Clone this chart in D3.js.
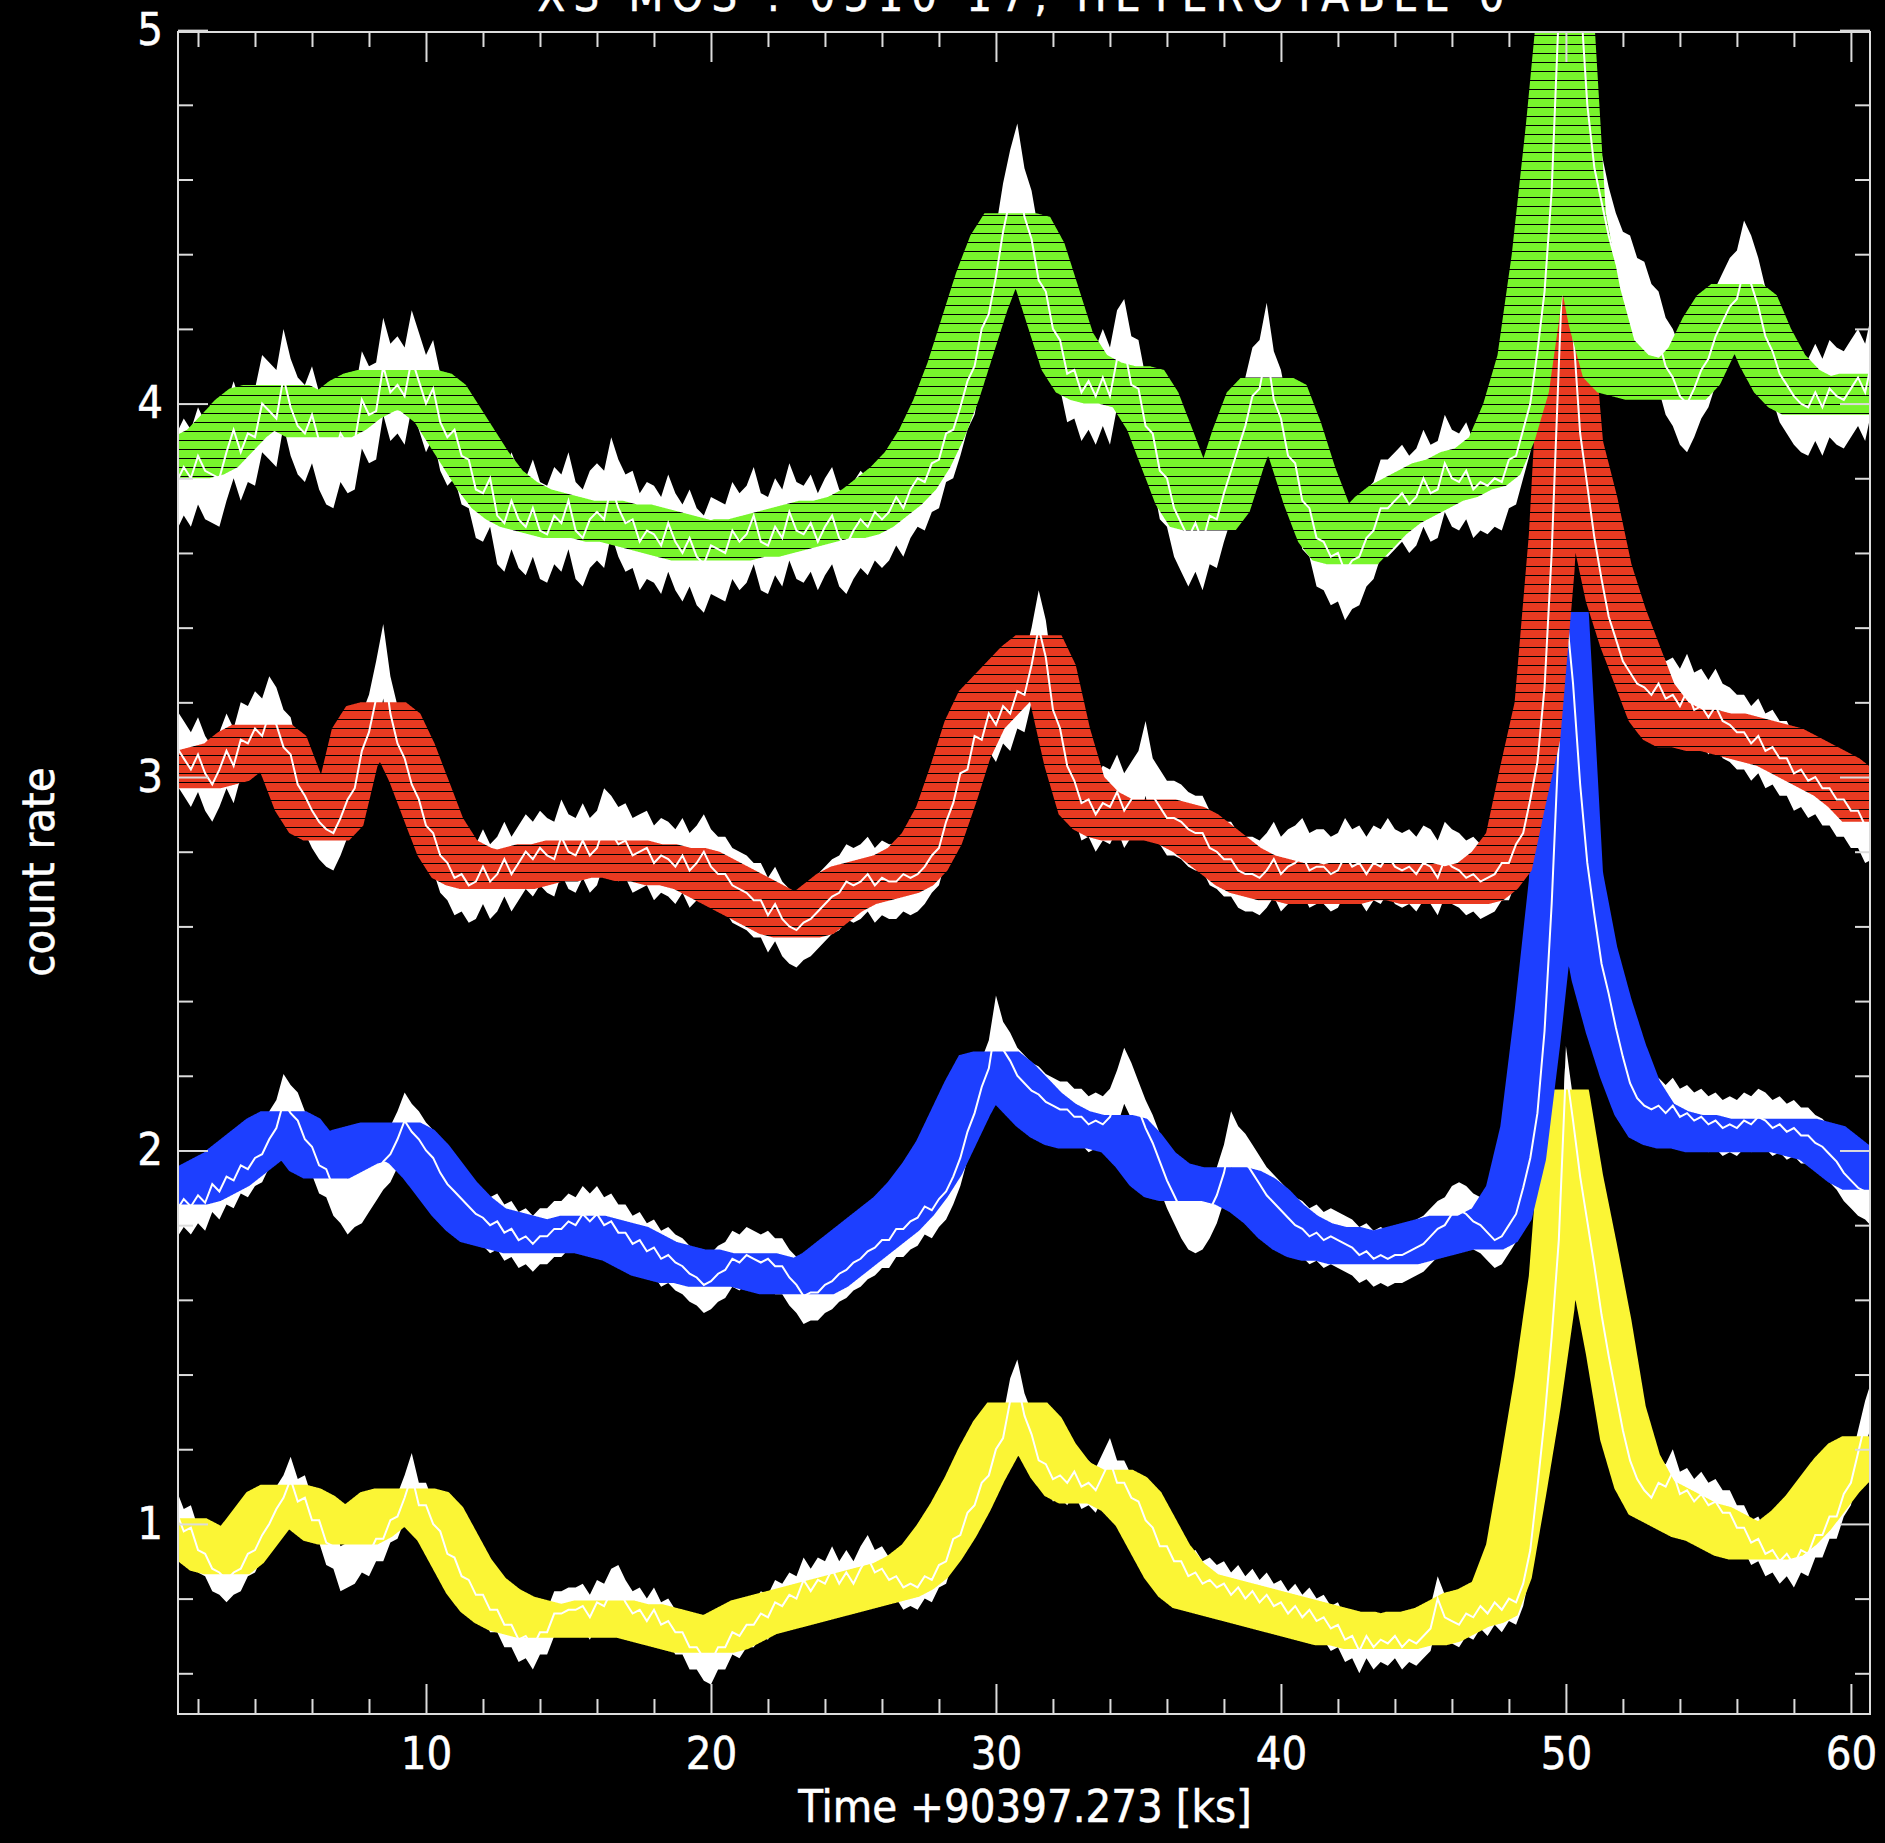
<!DOCTYPE html>
<html>
<head>
<meta charset="utf-8">
<script src="https://cdn.jsdelivr.net/npm/d3@7"></script>
<style>
  html, body { margin: 0; padding: 0; background: #000; }
  svg { display: block; }
  text {
    font-family: "DejaVu Sans Condensed", "DejaVu Sans", sans-serif;
    font-stretch: condensed;
    font-weight: 200;
    font-size: 45px;
    fill: #fff;
    stroke: #fff;
    stroke-width: 0.5px;
  }
</style>
</head>
<body>
<div id="chart"></div>
<script>
// time grids (ks)
const fineStart = 1.25, fineStep = 0.25;   // white light curves
const binStart = 1.5, binStep = 0.5;       // coloured binned curves

const xTicks = [10, 20, 30, 40, 50, 60];
const yTicks = [1, 2, 3, 4, 5];

// white curves, one value every 0.25 ks from 1.25 ks
const yellowFine = [
  1.03, 0.98, 0.99, 0.93, 0.92, 0.88, 0.87, 0.85, 0.87, 0.88,
  0.92, 0.93, 0.97, 1.00, 1.04, 1.07, 1.12, 1.06, 1.07, 1.01,
  1.01, 0.95, 0.94, 0.88, 0.89, 0.90, 0.93, 0.92, 0.96, 0.96,
  1.01, 1.02, 1.07, 1.13, 1.05, 1.05, 1.00, 0.98, 0.92, 0.91,
  0.86, 0.85, 0.81, 0.81, 0.77, 0.77, 0.73, 0.73, 0.69, 0.70,
  0.67, 0.71, 0.71, 0.76, 0.76, 0.77, 0.77, 0.78, 0.75, 0.79,
  0.78, 0.82, 0.83, 0.79, 0.76, 0.77, 0.74, 0.77, 0.73, 0.74,
  0.71, 0.71, 0.67, 0.67, 0.64, 0.63, 0.67, 0.67, 0.71, 0.70,
  0.73, 0.73, 0.76, 0.75, 0.79, 0.78, 0.81, 0.80, 0.85, 0.82,
  0.85, 0.84, 0.88, 0.84, 0.87, 0.84, 0.88, 0.91, 0.87, 0.88,
  0.85, 0.86, 0.83, 0.84, 0.83, 0.86, 0.85, 0.89, 0.90, 0.96,
  0.97, 1.03, 1.05, 1.11, 1.13, 1.20, 1.23, 1.33, 1.38, 1.29,
  1.24, 1.17, 1.16, 1.12, 1.13, 1.11, 1.14, 1.10, 1.11, 1.09,
  1.13, 1.17, 1.11, 1.11, 1.07, 1.06, 1.01, 0.99, 0.94, 0.94,
  0.90, 0.90, 0.86, 0.87, 0.84, 0.85, 0.83, 0.84, 0.81, 0.83,
  0.80, 0.82, 0.79, 0.81, 0.78, 0.79, 0.76, 0.78, 0.75, 0.77,
  0.74, 0.75, 0.72, 0.73, 0.69, 0.70, 0.66, 0.70, 0.67, 0.69,
  0.68, 0.70, 0.67, 0.69, 0.68, 0.70, 0.72, 0.80, 0.75, 0.74,
  0.73, 0.76, 0.75, 0.78, 0.76, 0.79, 0.77, 0.80, 0.79, 0.84,
  0.93, 1.10, 1.28, 1.50, 1.76, 2.22, 2.08, 1.93, 1.81, 1.69,
  1.56, 1.45, 1.35, 1.25, 1.17, 1.12, 1.09, 1.07, 1.11, 1.10,
  1.14, 1.08, 1.09, 1.06, 1.08, 1.05, 1.06, 1.03, 1.03, 0.99,
  0.99, 0.95, 0.96, 0.92, 0.93, 0.90, 0.92, 0.89, 0.93, 0.92,
  0.97, 0.97, 1.02, 1.02, 1.08, 1.11, 1.19, 1.27, 1.33
];
const blueFine = [
  1.84, 1.87, 1.85, 1.88, 1.86, 1.91, 1.89, 1.93, 1.92, 1.96,
  1.95, 1.98, 1.99, 2.03, 2.06, 2.13, 2.10, 2.08, 2.03, 2.01,
  1.96, 1.95, 1.90, 1.88, 1.85, 1.87, 1.88, 1.91, 1.94, 1.97,
  1.99, 2.03, 2.08, 2.05, 2.03, 2.00, 1.98, 1.94, 1.91, 1.89,
  1.87, 1.85, 1.83, 1.82, 1.80, 1.81, 1.78, 1.79, 1.76, 1.77,
  1.75, 1.77, 1.77, 1.79, 1.79, 1.81, 1.80, 1.83, 1.81, 1.83,
  1.80, 1.81, 1.78, 1.78, 1.75, 1.76, 1.73, 1.74, 1.71, 1.72,
  1.70, 1.69, 1.67, 1.66, 1.64, 1.65, 1.67, 1.68, 1.71, 1.70,
  1.72, 1.71, 1.70, 1.71, 1.69, 1.69, 1.66, 1.64, 1.61, 1.62,
  1.62, 1.64, 1.65, 1.67, 1.68, 1.70, 1.71, 1.73, 1.74, 1.76,
  1.76, 1.79, 1.79, 1.81, 1.82, 1.85, 1.84, 1.87, 1.89, 1.93,
  1.98, 2.05, 2.10, 2.17, 2.22, 2.34, 2.27, 2.24, 2.20, 2.18,
  2.16, 2.15, 2.13, 2.12, 2.11, 2.11, 2.09, 2.09, 2.07, 2.08,
  2.07, 2.09, 2.14, 2.20, 2.16, 2.11, 2.06, 2.02, 1.97, 1.92,
  1.88, 1.84, 1.81, 1.80, 1.81, 1.84, 1.88, 1.94, 2.03, 1.99,
  1.97, 1.94, 1.91, 1.88, 1.86, 1.84, 1.82, 1.80, 1.79, 1.77,
  1.78, 1.76, 1.77, 1.76, 1.75, 1.74, 1.72, 1.73, 1.71, 1.72,
  1.71, 1.72, 1.72, 1.73, 1.74, 1.75, 1.77, 1.79, 1.80, 1.83,
  1.84, 1.83, 1.81, 1.80, 1.78, 1.76, 1.77, 1.80, 1.83, 1.90,
  1.98, 2.10, 2.32, 2.66, 3.10, 3.45, 3.25, 2.98, 2.77, 2.63,
  2.50, 2.42, 2.33, 2.25, 2.18, 2.14, 2.12, 2.11, 2.12, 2.10,
  2.12, 2.09, 2.10, 2.08, 2.09, 2.07, 2.08, 2.06, 2.07, 2.06,
  2.08, 2.07, 2.09, 2.08, 2.06, 2.07, 2.05, 2.06, 2.04, 2.04,
  2.02, 2.01, 1.99, 1.97, 1.94, 1.92, 1.90, 1.89, 1.87
];
const redFine = [
  3.08, 3.05, 3.02, 3.06, 3.01, 2.98, 3.02, 3.07, 3.03, 3.10,
  3.09, 3.13, 3.11, 3.17, 3.14, 3.08, 3.06, 2.98, 2.95, 2.91,
  2.88, 2.86, 2.85, 2.89, 2.94, 2.97, 3.07, 3.12, 3.21, 3.31,
  3.17, 3.09, 3.05, 2.98, 2.94, 2.87, 2.85, 2.79, 2.77, 2.73,
  2.74, 2.71, 2.72, 2.76, 2.72, 2.74, 2.78, 2.74, 2.77, 2.80,
  2.78, 2.81, 2.79, 2.78, 2.84, 2.80, 2.79, 2.83, 2.79, 2.81,
  2.87, 2.85, 2.82, 2.83, 2.79, 2.80, 2.81, 2.77, 2.79, 2.78,
  2.76, 2.79, 2.75, 2.77, 2.80, 2.76, 2.74, 2.74, 2.71, 2.70,
  2.69, 2.67, 2.67, 2.63, 2.66, 2.62, 2.60, 2.59, 2.61, 2.62,
  2.64, 2.66, 2.68, 2.69, 2.72, 2.71, 2.72, 2.74, 2.71, 2.73,
  2.72, 2.72, 2.74, 2.73, 2.74, 2.76, 2.79, 2.81, 2.88, 2.93,
  3.01, 3.02, 3.11, 3.10, 3.17, 3.14, 3.19, 3.17, 3.23, 3.22,
  3.30, 3.40, 3.32, 3.18, 3.13, 3.03, 2.99, 2.93, 2.94, 2.90,
  2.93, 2.92, 2.96, 2.91, 2.94, 2.97, 3.05, 2.95, 2.92, 2.89,
  2.89, 2.88, 2.86, 2.85, 2.85, 2.81, 2.80, 2.78, 2.78, 2.75,
  2.74, 2.74, 2.73, 2.75, 2.78, 2.74, 2.76, 2.77, 2.79, 2.75,
  2.76, 2.76, 2.74, 2.75, 2.79, 2.76, 2.77, 2.74, 2.77, 2.76,
  2.79, 2.76, 2.75, 2.76, 2.74, 2.77, 2.76, 2.73, 2.78, 2.76,
  2.75, 2.73, 2.74, 2.72, 2.73, 2.74, 2.77, 2.77, 2.82, 2.85,
  2.94, 3.04, 3.24, 3.60, 4.10, 4.58, 4.20, 3.92, 3.78, 3.64,
  3.53, 3.43, 3.37, 3.31, 3.28, 3.25, 3.24, 3.22, 3.25, 3.21,
  3.22, 3.19, 3.23, 3.18, 3.19, 3.16, 3.19, 3.15, 3.14, 3.12,
  3.12, 3.09, 3.11, 3.07, 3.08, 3.05, 3.05, 3.01, 3.02, 2.99,
  3.00, 2.97, 2.97, 2.94, 2.94, 2.91, 2.91, 2.87, 2.88
];
const greenFine = [
  3.79, 3.83, 3.80, 3.86, 3.82, 3.81, 3.80, 3.87, 3.93, 3.87,
  3.92, 3.91, 4.00, 3.98, 3.96, 4.07, 3.99, 3.94, 3.92, 3.97,
  3.90, 3.86, 3.85, 3.92, 3.89, 3.90, 4.01, 3.97, 3.98, 4.10,
  4.03, 4.05, 4.02, 4.12, 4.06, 4.00, 4.04, 3.95, 3.91, 3.93,
  3.86, 3.85, 3.77, 3.76, 3.80, 3.70, 3.68, 3.74, 3.69, 3.67,
  3.72, 3.66, 3.65, 3.70, 3.68, 3.74, 3.66, 3.64, 3.69, 3.71,
  3.69, 3.78, 3.72, 3.68, 3.69, 3.63, 3.66, 3.65, 3.62, 3.68,
  3.63, 3.60, 3.64, 3.59, 3.57, 3.62, 3.61, 3.60, 3.66, 3.63,
  3.65, 3.70, 3.63, 3.62, 3.67, 3.64, 3.71, 3.66, 3.65, 3.68,
  3.63, 3.67, 3.70, 3.64, 3.62, 3.66, 3.69, 3.67, 3.71, 3.69,
  3.71, 3.75, 3.72, 3.77, 3.80, 3.79, 3.84, 3.85, 3.92, 3.93,
  3.99, 4.06, 4.10, 4.20, 4.24, 4.34, 4.46, 4.55, 4.62, 4.50,
  4.44, 4.33, 4.30, 4.20, 4.17, 4.08, 4.09, 4.03, 4.06, 4.02,
  4.07, 4.02, 4.12, 4.15, 4.05, 4.04, 3.94, 3.92, 3.82, 3.80,
  3.72, 3.68, 3.64, 3.68, 3.63, 3.70, 3.69, 3.76, 3.82, 3.88,
  3.94, 4.02, 4.04, 4.14, 4.01, 3.96, 3.86, 3.84, 3.74, 3.72,
  3.64, 3.63, 3.59, 3.60, 3.55, 3.58, 3.59, 3.64, 3.66, 3.72,
  3.72, 3.74, 3.76, 3.73, 3.75, 3.80, 3.76, 3.77, 3.84, 3.80,
  3.79, 3.82, 3.77, 3.79, 3.78, 3.80, 3.79, 3.85, 3.86, 3.93,
  4.00, 4.14, 4.30, 4.57, 5.05, 5.40, 5.30, 5.10, 4.80, 4.63,
  4.54, 4.45, 4.38, 4.33, 4.32, 4.26, 4.25, 4.19, 4.17, 4.10,
  4.07, 4.02, 4.00, 4.04, 4.09, 4.12, 4.18, 4.22, 4.26, 4.28,
  4.36, 4.32, 4.26, 4.18, 4.14, 4.08, 4.05, 4.02, 4.00, 3.99,
  4.03, 3.99, 4.04, 4.02, 4.01, 4.04, 4.07, 4.03, 4.12
];

// coloured binned curves, one value every 0.5 ks from 1.5 ks
const yellowBins = [
  0.97, 0.95, 0.92, 0.91, 0.94, 0.99, 1.04, 1.06, 1.05, 1.03,
  1.00, 0.99, 0.99, 1.01, 1.04, 1.05, 1.05, 1.04, 1.00, 0.93,
  0.86, 0.81, 0.78, 0.76, 0.75, 0.74, 0.74, 0.74, 0.74, 0.75,
  0.75, 0.74, 0.74, 0.73, 0.72, 0.71, 0.70, 0.70, 0.71, 0.73,
  0.75, 0.76, 0.77, 0.78, 0.79, 0.80, 0.81, 0.82, 0.83, 0.84,
  0.85, 0.87, 0.90, 0.95, 1.01, 1.08, 1.16, 1.23, 1.28, 1.28,
  1.24, 1.17, 1.12, 1.10, 1.10, 1.10, 1.08, 1.04, 0.97, 0.90,
  0.85, 0.82, 0.81, 0.80, 0.79, 0.78, 0.77, 0.76, 0.75, 0.74,
  0.73, 0.72, 0.72, 0.71, 0.71, 0.71, 0.72, 0.72, 0.73, 0.75,
  0.77, 0.78, 0.80, 0.90, 1.12, 1.35, 1.62, 2.12, 1.89, 1.70,
  1.50, 1.27, 1.14, 1.07, 1.05, 1.03, 1.01, 1.00, 0.98, 0.96,
  0.95, 0.95, 0.96, 0.99, 1.03, 1.08, 1.13, 1.17, 1.19
];
const blueBins = [
  1.90, 1.91, 1.93, 1.95, 1.98, 2.01, 2.04, 2.06, 2.04, 1.99,
  1.97, 1.99, 2.01, 2.02, 2.03, 2.03, 2.01, 1.97, 1.92, 1.87,
  1.83, 1.80, 1.79, 1.78, 1.77, 1.77, 1.77, 1.77, 1.78, 1.77,
  1.76, 1.75, 1.73, 1.71, 1.70, 1.69, 1.69, 1.68, 1.68, 1.68,
  1.68, 1.67, 1.66, 1.66, 1.66, 1.68, 1.71, 1.74, 1.77, 1.80,
  1.83, 1.87, 1.92, 1.98, 2.06, 2.14, 2.21, 2.22, 2.19, 2.15,
  2.11, 2.08, 2.06, 2.05, 2.05, 2.05, 2.04, 2.00, 1.95, 1.92,
  1.91, 1.91, 1.91, 1.91, 1.90, 1.88, 1.85, 1.81, 1.78, 1.76,
  1.75, 1.75, 1.74, 1.74, 1.74, 1.74, 1.75, 1.76, 1.77, 1.78,
  1.78, 1.78, 1.80, 1.86, 2.02, 2.33, 2.68, 3.40, 2.70, 2.50,
  2.36, 2.24, 2.14, 2.08, 2.06, 2.05, 2.05, 2.04, 2.04, 2.04,
  2.04, 2.04, 2.04, 2.04, 2.03, 2.02, 1.99, 1.96, 1.94
];
const redBins = [
  3.02, 3.02, 3.03, 3.04, 3.07, 3.09, 3.09, 3.06, 2.96, 2.90,
  2.88, 2.92, 3.08, 3.14, 3.15, 3.12, 3.04, 2.94, 2.84, 2.78,
  2.76, 2.75, 2.75, 2.75, 2.76, 2.77, 2.77, 2.78, 2.78, 2.78,
  2.78, 2.78, 2.77, 2.77, 2.76, 2.76, 2.75, 2.73, 2.71, 2.69,
  2.67, 2.65, 2.63, 2.62, 2.63, 2.66, 2.69, 2.71, 2.72, 2.73,
  2.74, 2.76, 2.80, 2.87, 2.98, 3.10, 3.18, 3.22, 3.26, 3.30,
  3.33, 3.25, 3.08, 2.95, 2.91, 2.89, 2.88, 2.89, 2.89, 2.88,
  2.87, 2.85, 2.82, 2.79, 2.76, 2.74, 2.73, 2.72, 2.72, 2.71,
  2.71, 2.71, 2.72, 2.72, 2.72, 2.72, 2.72, 2.71, 2.71, 2.71,
  2.71, 2.72, 2.75, 2.80, 2.98, 3.15, 3.60, 4.30, 3.85, 3.70,
  3.52, 3.40, 3.30, 3.20, 3.15, 3.13, 3.13, 3.12, 3.12, 3.11,
  3.10, 3.09, 3.08, 3.06, 3.04, 3.02, 3.00, 2.97, 2.93
];
const greenBins = [
  3.85, 3.86, 3.88, 3.92, 3.96, 3.99, 4.00, 4.00, 3.98, 3.96,
  3.96, 3.98, 4.01, 4.03, 4.04, 4.04, 4.04, 4.03, 4.00, 3.94,
  3.88, 3.82, 3.77, 3.74, 3.72, 3.71, 3.70, 3.69, 3.69, 3.69,
  3.68, 3.68, 3.67, 3.66, 3.65, 3.64, 3.63, 3.63, 3.63, 3.64,
  3.64, 3.65, 3.66, 3.67, 3.68, 3.69, 3.69, 3.70, 3.72, 3.75,
  3.78, 3.82, 3.88, 3.96, 4.06, 4.18, 4.30, 4.40, 4.46, 4.45,
  4.38, 4.26, 4.14, 4.08, 4.06, 4.05, 4.05, 4.04, 3.98, 3.88,
  3.78, 3.72, 3.71, 3.76, 3.88, 3.98, 4.02, 4.00, 3.90, 3.78,
  3.68, 3.63, 3.62, 3.66, 3.70, 3.73, 3.75, 3.77, 3.79, 3.80,
  3.82, 3.83, 3.86, 3.95, 4.08, 4.35, 4.70, 5.10, 4.46, 4.26,
  4.12, 4.08, 4.07, 4.06, 4.06, 4.06, 4.10, 4.18, 4.24, 4.27,
  4.24, 4.15, 4.08, 4.04, 4.02, 4.02, 4.02, 4.02, 4.03
];

const series = [
  { fine: yellowFine, bins: yellowBins, color: "#fbf535" },
  { fine: blueFine,   bins: blueBins,   color: "#1d3fff" },
  { fine: redFine,    bins: redBins,    color: "#e93a21" },
  { fine: greenFine,  bins: greenBins,  color: "#78f52c" }
];
// drawing sizes per series: white spread, coloured half height,
// bar half width (ks), and whether the bars show as separate strokes
const looks = [
  { spread: 0.06,  half: 0.045, reach: 0.8, striped: false },
  { spread: 0.075, half: 0.045, reach: 0.8, striped: false },
  { spread: 0.10,  half: 0.05,  reach: 0.8, striped: true },
  { spread: 0.13,  half: 0.05,  reach: 0.9, striped: true }
];

const W = 1885, H = 1843;
const plotLeft = 178, plotRight = 1870, plotTop = 32, plotBottom = 1714;
const frameColor = "#dcdcdc";

const svg = d3.select("#chart").append("svg")
  .attr("width", W)
  .attr("height", H);

svg.append("rect").attr("width", W).attr("height", H).attr("fill", "#000");

const x = d3.scaleLinear().domain([1.298, 60.67]).range([plotLeft, plotRight]);
const y = d3.scaleLinear().domain([0.491, 4.995]).range([plotBottom, plotTop]);

const defs = svg.append("defs");
defs.append("clipPath").attr("id", "plotArea")
  .append("rect")
  .attr("x", plotLeft).attr("y", plotTop)
  .attr("width", plotRight - plotLeft).attr("height", plotBottom - plotTop);

// horizontal stroke texture for the noisier bands
series.forEach((s, k) => {
  const p = defs.append("pattern")
    .attr("id", "bars" + k)
    .attr("patternUnits", "userSpaceOnUse")
    .attr("width", 40).attr("height", 9);
  p.append("rect").attr("width", 40).attr("height", 9).attr("fill", "#000");
  p.append("rect").attr("width", 40).attr("height", 8).attr("fill", s.color);
});

const plot = svg.append("g").attr("clip-path", "url(#plotArea)");

// union of the horizontal bars of a binned curve: lowest and highest value
// seen within +-reach ks of each time column
function barUnion(points, reach, half) {
  const t0 = points[0].t, t1 = points[points.length - 1].t;
  const valueAt = u => {
    const i = Math.max(0, Math.min(points.length - 2, Math.floor((u - t0) / binStep)));
    const f = (u - points[i].t) / binStep;
    return points[i].v + (points[i + 1].v - points[i].v) * f;
  };
  const out = [];
  const [d0, d1] = x.domain();
  for (let s = d0; s <= d1 + 0.02; s += 0.02) {
    let lo = Infinity, hi = -Infinity;
    const a = Math.max(t0, s - reach), b = Math.min(t1, s + reach);
    for (let u = a; u <= b + 1e-9; u += 0.02) {
      const v = valueAt(u);
      if (v < lo) lo = v;
      if (v > hi) hi = v;
    }
    if (lo <= hi) out.push({ t: s, lo: lo - half, hi: hi + half });
  }
  return out;
}

series.forEach((s, k) => {
  const look = looks[k];
  const fine = s.fine.map((v, i) => ({ t: fineStart + i * fineStep, v }));
  const bins = s.bins.map((v, i) => ({ t: binStart + i * binStep, v }));

  plot.append("path")
    .datum(fine)
    .attr("fill", "#fff")
    .attr("d", d3.area()
      .x(d => x(d.t))
      .y0(d => y(d.v - look.spread))
      .y1(d => y(d.v + look.spread)));

  plot.append("path")
    .datum(barUnion(bins, look.reach, look.half))
    .attr("fill", look.striped ? `url(#bars${k})` : s.color)
    .attr("d", d3.area()
      .x(d => x(d.t))
      .y0(d => y(d.lo))
      .y1(d => y(d.hi)));

  plot.append("path")
    .datum(fine)
    .attr("fill", "none")
    .attr("stroke", "#fff")
    .attr("stroke-width", 2)
    .attr("d", d3.line().x(d => x(d.t)).y(d => y(d.v)));
});

// axes
const xMinor = d3.range(2, 61, 2).filter(t => t % 10 !== 0);
const yMinor = d3.range(6, 50, 2).map(d => d / 10).filter(v => Math.abs(v - Math.round(v)) > 0.01);

function tidy(g) {
  g.select(".domain").remove();
  g.attr("font-size", null).attr("font-family", null);
  g.selectAll(".tick line").attr("stroke", frameColor).attr("stroke-width", 2);
}

svg.append("g").attr("transform", `translate(0,${plotBottom})`)
  .call(d3.axisBottom(x).tickValues(xMinor).tickSize(-15).tickFormat("")).call(tidy);
svg.append("g").attr("transform", `translate(0,${plotBottom})`)
  .call(d3.axisBottom(x).tickValues(xTicks).tickSize(-30).tickPadding(23).tickFormat(d3.format("d")))
  .call(tidy);
svg.append("g").attr("transform", `translate(0,${plotTop})`)
  .call(d3.axisTop(x).tickValues(xMinor).tickSize(-15).tickFormat("")).call(tidy);
svg.append("g").attr("transform", `translate(0,${plotTop})`)
  .call(d3.axisTop(x).tickValues(xTicks).tickSize(-30).tickFormat("")).call(tidy);

svg.append("g").attr("transform", `translate(${plotLeft},0)`)
  .call(d3.axisLeft(y).tickValues(yMinor).tickSize(-15).tickFormat("")).call(tidy);
svg.append("g").attr("transform", `translate(${plotLeft},0)`)
  .call(d3.axisLeft(y).tickValues(yTicks).tickSize(-30).tickPadding(15).tickFormat(d3.format("d")))
  .call(tidy);
svg.append("g").attr("transform", `translate(${plotRight},0)`)
  .call(d3.axisRight(y).tickValues(yMinor).tickSize(-15).tickFormat("")).call(tidy);
svg.append("g").attr("transform", `translate(${plotRight},0)`)
  .call(d3.axisRight(y).tickValues(yTicks).tickSize(-30).tickFormat("")).call(tidy);

svg.append("rect")
  .attr("x", plotLeft).attr("y", plotTop)
  .attr("width", plotRight - plotLeft).attr("height", plotBottom - plotTop)
  .attr("fill", "none")
  .attr("stroke", frameColor)
  .attr("stroke-width", 2);

// labels
svg.append("text")
  .attr("x", (plotLeft + plotRight) / 2 + 1)
  .attr("y", 1822)
  .attr("text-anchor", "middle")
  .text("Time +90397.273 [ks]");

svg.append("text")
  .attr("transform", "translate(54,872) rotate(-90)")
  .attr("text-anchor", "middle")
  .text("count rate");

svg.append("text")
  .attr("x", 1021)
  .attr("y", 11)
  .attr("text-anchor", "middle")
  .attr("textLength", 967)
  .text("XS MOS : 0510 17, HETEROTABLE 0");
</script>
</body>
</html>
